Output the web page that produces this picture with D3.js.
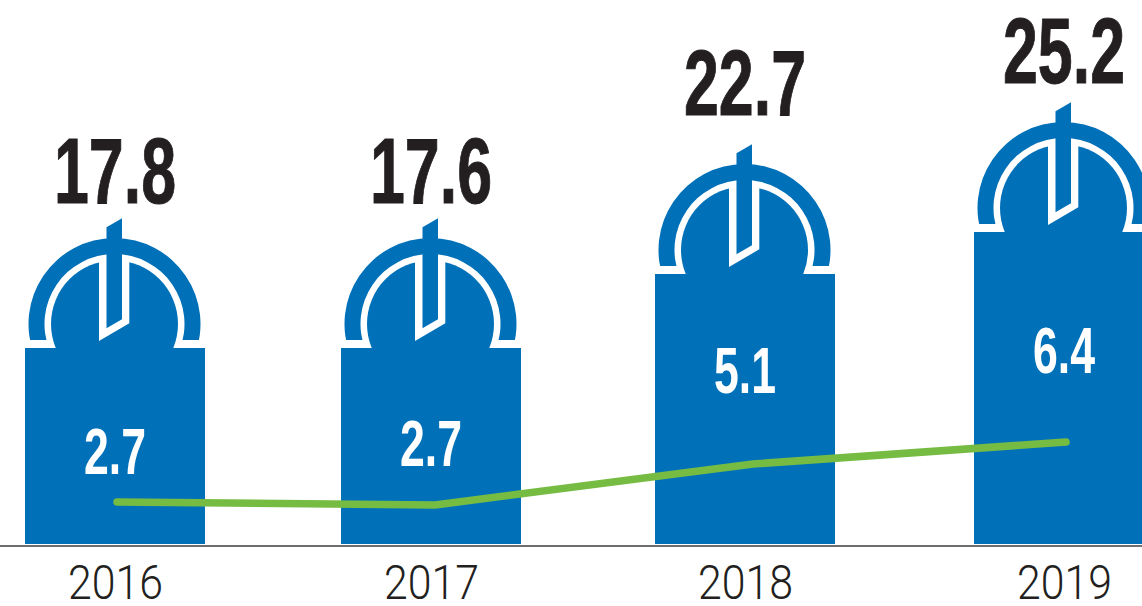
<!DOCTYPE html>
<html>
<head>
<meta charset="utf-8">
<script src="https://d3js.org/d3.v7.min.js"></script>
<style>
  html, body { margin: 0; padding: 0; background: #fff; overflow: hidden; }
  .num { font-family: "Liberation Sans Narrow", "Liberation Sans", sans-serif; font-weight: 700; }
  .x-axis text { font-family: Roboto, sans-serif; font-weight: 300; font-size: 49px; fill: #231f20; }
</style>
</head>
<body>
<div id="chart"></div>
<script>
(function () {

  var width = 1142, height = 606

  var years = ['2016', '2017', '2018', '2019']
  var totals = [17.8, 17.6, 22.7, 25.2]
  var inner = [2.7, 2.7, 5.1, 6.4]
  // green line has no scale in the picture, read as height above the baseline
  var lineValues = [42, 39, 80, 102]

  var blue = '#0071b9', green = '#76bc43', ink = '#231f20'

  var baseline = 544

  var xScale = d3.scaleOrdinal().domain(years).range([115, 431, 745, 1064])
  // the line points sit a little right of the bar centres
  var lineX = d3.scaleOrdinal().domain(years).range([117, 435, 753, 1066])

  // bars are not drawn strictly to scale in the original, 17.6 and 17.8 sit level
  var barY = d3.scaleLinear().domain([17.8, 22.7, 25.2]).range([348, 274, 232]).clamp(true)
  var totalLabelY = d3.scaleLinear().domain([17.8, 22.7, 25.2]).range([203, 115, 83]).clamp(true)
  var lineY = d3.scaleLinear().domain([0, 102]).range([baseline, 442])
  var innerNudge = [0, -8, 0, 0]
  var innerLabelY = d3.scaleLinear().domain([2.7, 5.1, 6.4]).range([474, 393, 373])

  var svg = d3.select('#chart').append('svg')
    .attr('width', width)
    .attr('height', height)
    .style('display', 'block')

  var barWidth = 180

  var groups = svg.selectAll('.bar')
    .data(years)
    .enter().append('g')
    .attr('class', 'bar')
    .attr('transform', function (d, i) {
      return 'translate(' + xScale(d) + ',' + barY(totals[i]) + ')'
    })

  // the dome icon on top of each bar, origin is the middle of the bar top
  var ringArc = d3.arc()
    .innerRadius(70)
    .outerRadius(86)
    .startAngle(-Math.PI * 0.62)
    .endAngle(Math.PI * 0.62)

  groups.append('path')
    .attr('d', ringArc())
    .attr('transform', 'translate(-0.5,-24)')
    .attr('fill', blue)

  groups.append('rect')
    .attr('x', -100)
    .attr('y', -8)
    .attr('width', 200)
    .attr('height', 8)
    .attr('fill', '#fff')

  groups.append('circle')
    .attr('cx', -0.5)
    .attr('cy', -24)
    .attr('r', 63.5)
    .attr('fill', blue)

  groups.append('path')
    .attr('d', 'M-16,-90L-16,-7L14.3,-24.7L14.3,-90Z')
    .attr('fill', '#fff')

  groups.append('path')
    .attr('d', 'M-8.5,-120.7L7,-129.7L7,-28.7L-8.5,-19.7Z')
    .attr('fill', blue)

  groups.append('rect')
    .attr('x', -barWidth / 2)
    .attr('y', 0)
    .attr('width', barWidth)
    .attr('height', function (d, i) { return baseline - barY(totals[i]) })
    .attr('fill', blue)

  // axis
  var xAxis = d3.axisBottom(xScale)
    .tickSize(0)
    .tickPadding(18)

  svg.append('g')
    .attr('class', 'x-axis')
    .attr('transform', 'translate(0,546)')
    .call(xAxis)
    .call(function (g) { g.select('.domain').remove() })

  svg.selectAll('.x-axis text')
    .attr('textLength', 95)
    .attr('lengthAdjust', 'spacingAndGlyphs')

  svg.append('line')
    .attr('x1', 0)
    .attr('x2', width)
    .attr('y1', 546)
    .attr('y2', 546)
    .attr('stroke', '#3c3c3c')
    .attr('stroke-width', 1.4)

  // green line
  var line = d3.line()
    .x(function (d, i) { return lineX(years[i]) })
    .y(function (d) { return lineY(d) })

  svg.append('path')
    .datum(lineValues)
    .attr('d', line)
    .attr('fill', 'none')
    .attr('stroke', green)
    .attr('stroke-width', 7.5)
    .attr('stroke-linecap', 'round')
    .attr('stroke-linejoin', 'round')

  // labels
  svg.selectAll('.total')
    .data(totals)
    .enter().append('text')
    .attr('class', 'num total')
    .attr('x', function (d, i) { return xScale(years[i]) })
    .attr('y', function (d) { return totalLabelY(d) })
    .attr('text-anchor', 'middle')
    .attr('font-size', 92)
    .attr('textLength', 122)
    .attr('lengthAdjust', 'spacingAndGlyphs')
    .attr('fill', ink)
    .attr('stroke', ink)
    .attr('stroke-width', 1)
    .text(function (d) { return d.toFixed(1) })

  svg.selectAll('.inner')
    .data(inner)
    .enter().append('text')
    .attr('class', 'num inner')
    .attr('x', function (d, i) { return xScale(years[i]) })
    .attr('y', function (d, i) { return innerLabelY(d) + innerNudge[i] })
    .attr('text-anchor', 'middle')
    .attr('font-size', 65)
    .attr('textLength', 62)
    .attr('lengthAdjust', 'spacingAndGlyphs')
    .attr('fill', '#fff')
    .text(function (d) { return d.toFixed(1) })

})()
</script>
</body>
</html>
